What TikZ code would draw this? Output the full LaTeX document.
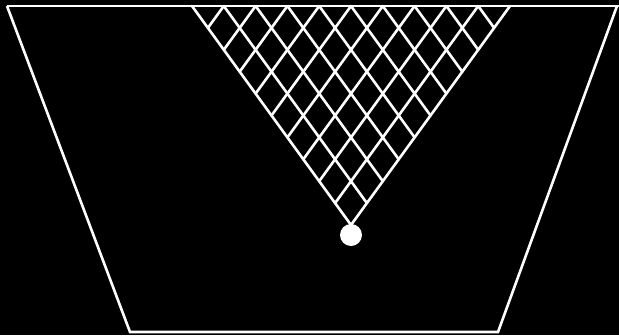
\documentclass[tikz,border=0pt]{standalone}
\usetikzlibrary{calc}
\begin{document}
\begin{tikzpicture}[x=1pt,y=-1pt,
  wline/.style={draw=white,line width=2.6pt},
  lat/.style={draw=white,line width=2.6pt,line cap=round}]
\fill[black] (0,0) rectangle (619,335);
\useasboundingbox (0,0) rectangle (619,335);
% trapezoid
\coordinate (TL) at (7,6);
\coordinate (TR) at (617,6);
\coordinate (BR) at (498,332);
\coordinate (BL) at (130,332);
\draw[wline] (TL) -- (BL) -- (BR) -- (TR);
\draw[wline] (TL) -- (619,6);
% triangle lattice
\coordinate (L) at (192,6);
\coordinate (R) at (510,6);
\coordinate (A) at (351,225);
\draw[lat] (L) -- (A) -- (R);
\foreach \i in {1,...,9}{
  \pgfmathsetmacro{\t}{\i/10}
  \draw[lat] ($(L)!\t!(R)$) -- ($(A)!\t!(R)$);
  \draw[lat] ($(L)!\t!(R)$) -- ($(L)!\t!(A)$);
}
\node[circle,fill=white,minimum size=22pt,inner sep=0pt] (ball) at (351,235) {};
\end{tikzpicture}
\end{document}
